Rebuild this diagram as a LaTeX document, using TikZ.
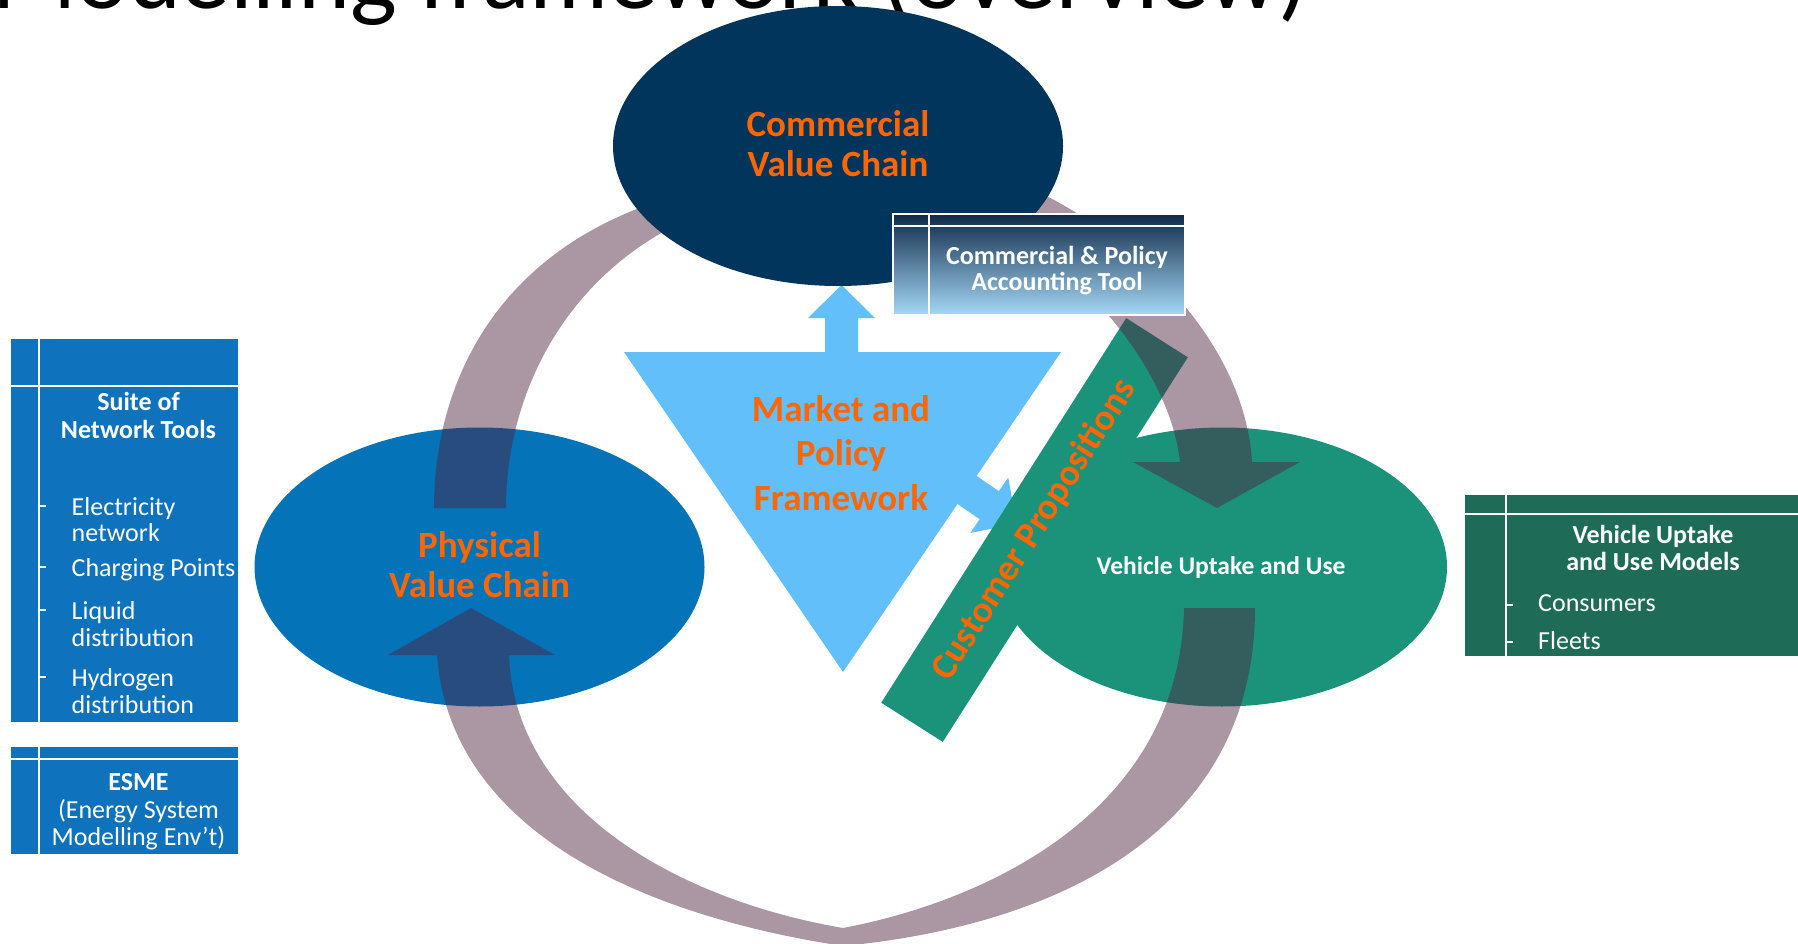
\documentclass[tikz,border=0pt]{standalone}
\usepackage{fontspec}
\setmainfont{Carlito}
\usetikzlibrary{shapes.geometric}

\definecolor{cvcnavy}{RGB}{2,53,91}
\definecolor{pvcblue}{RGB}{4,115,183}
\definecolor{vuugreen}{RGB}{27,147,122}
\definecolor{mpfblue}{RGB}{99,191,250}
\definecolor{accent}{RGB}{255,102,0}
\definecolor{toolblue}{RGB}{14,114,189}
\definecolor{modelgreen}{RGB}{30,108,88}
\definecolor{ringtone}{RGB}{80,35,65}
\definecolor{acctop}{RGB}{14,42,72}
\definecolor{accmid}{RGB}{80,135,180}
\definecolor{accbot}{RGB}{166,216,247}

\begin{document}
\begin{tikzpicture}[x=1pt, y=-1pt,
  ring/.style={fill=ringtone, fill opacity=0.48},
  blob/.style={ellipse, inner sep=0pt, minimum width=450pt, minimum height=279pt},
  orangehead/.style={anchor=base, inner sep=0pt, text=accent, font=\fontsize{37}{37}\selectfont\bfseries},
  boxhead/.style={anchor=base, inner sep=0pt, text=white, font=\fontsize{26}{26}\selectfont\bfseries},
  boxitem/.style={anchor=base west, inner sep=0pt, text=white, font=\fontsize{26}{26}\selectfont},
  boxline/.style={anchor=base, inner sep=0pt, text=white, font=\fontsize{26}{26}\selectfont},
  itemdash/.style={white, line width=1.1pt},
  celllines/.style={white, line width=2pt},
]
\useasboundingbox (0,0) rectangle (1798,944);
\clip (0,0) rectangle (1798,944);

% slide title (runs off the top edge)
\node[anchor=base west, inner sep=0pt, font=\fontsize{99}{99}\selectfont] (title) at (-8,9) {Modelling framework (overview)};

% ---- left-hand tool boxes ----
\fill[toolblue] (11,339) rectangle (238,722);
\draw[celllines] (39,339) -- (39,722);
\draw[celllines] (11,386) -- (238,386);
\node[boxhead] (suite1) at (138.5,410.5) {Suite of};
\node[boxhead] (suite2) at (138.5,438) {Network Tools};
\node[boxitem] (it1a) at (71.5,515) {Electricity};
\node[boxitem] (it1b) at (71.5,541) {network};
\node[boxitem] (it2) at (71.5,576) {Charging Points};
\node[boxitem] (it3a) at (71.5,619) {Liquid};
\node[boxitem] (it3b) at (71.5,646) {distribution};
\node[boxitem] (it4a) at (71.5,686) {Hydrogen};
\node[boxitem] (it4b) at (71.5,713) {distribution};
\foreach \y in {506,567,610,677} \draw[itemdash] (40,\y) -- (46,\y);

\fill[toolblue] (11,747) rectangle (238,854);
\draw[celllines] (39,747) -- (39,854);
\draw[celllines] (11,759) -- (238,759);
\node[boxhead] (esme1) at (138.5,790) {ESME};
\node[boxline] (esme2) at (138.5,818) {(Energy System};
\node[boxline] (esme3) at (138.5,845.5) {Modelling Env’t)};

% ---- right-hand model box ----
\fill[modelgreen] (1465,495) rectangle (1810,656);
\draw[celllines] (1506,495) -- (1506,656);
\draw[celllines] (1465,514) -- (1810,514);
\node[boxhead] (vm1) at (1653,543) {Vehicle Uptake};
\node[boxhead] (vm2) at (1653,570.5) {and Use Models};
\node[boxitem] (vm3) at (1538,611.5) {Consumers};
\node[boxitem] (vm4) at (1538,649) {Fleets};
\foreach \y in {605,642} \draw[itemdash] (1507,\y) -- (1513,\y);

% ---- lower value-chain ellipses ----
\node[blob, fill=pvcblue] (pvc) at (479.5,567) {};
\node[blob, fill=vuugreen] (vuu) at (1222,567) {};

% ---- market and policy triangle with its two block arrows ----
\fill[mpfblue] (624,352) -- (1061,352) -- (843,672) -- cycle;
\fill[mpfblue] (825,353) -- (825,318) -- (808,318) -- (841.5,285) -- (875,318) -- (858,318) -- (858,353) -- cycle;
\fill[mpfblue] (973.3,473.7) -- (998.9,491.2) -- (1008.2,477.5) -- (1016.6,523.8) -- (970.4,532.9) -- (979.7,519.2) -- (954.1,501.7) -- cycle;

% ---- customer propositions band ----
\node[rotate=57.5, fill=vuugreen, minimum width=456pt, minimum height=73pt, inner sep=0pt,
      text=accent, font=\fontsize{37}{37}\selectfont\bfseries] (cp) at (1034.5,530) {Customer Propositions};

% ---- cycle of curved arrows ----
% upper left arc, flat end inside the physical value chain
\fill[ring] (690,192) .. controls (500,240) and (434,380) .. (434,508)
  -- (506,508) .. controls (506,390) and (570,265) .. (705,212) -- cycle;
% upper right arc, arrowhead into vehicle uptake
\fill[ring] (1000,175) .. controls (1130,225) and (1245,340) .. (1252,462)
  -- (1300,462) -- (1217,508) -- (1133,462)
  -- (1180,462) .. controls (1170,370) and (1080,260) .. (975,215) -- cycle;
% lower arc, from vehicle uptake round to the physical value chain
\fill[ring] (471,608) -- (555,655)
  -- (509,655) .. controls (515,810) and (680,900) .. (843,928)
  .. controls (990,900) and (1180,810) .. (1184,608)
  -- (1255,608) .. controls (1255,830) and (1060,925) .. (843,946)
  .. controls (640,915) and (450,830) .. (437,655)
  -- (388,655) -- cycle;

% ---- commercial value chain ellipse ----
\node[blob, fill=cvcnavy, minimum height=280pt] (cvc) at (838,146) {};

% ---- accounting tool box ----
\shade[top color=acctop, middle color=accmid, bottom color=accbot] (893,214) rectangle (1185,315);
\draw[white, line width=1.5pt] (893,214) rectangle (1185,315);
\draw[celllines] (929,214) -- (929,315);
\draw[celllines] (893,226) -- (1185,226);
\node[boxhead] (acc1) at (1057,264) {Commercial \& Policy};
\node[boxhead] (acc2) at (1057,290.5) {Accounting Tool};

% ---- labels ----
\node[orangehead] (cvc1) at (838,137) {Commercial};
\node[orangehead] (cvc2) at (838,177) {Value Chain};
\node[orangehead] (pvc1) at (479.5,557) {Physical};
\node[orangehead] (pvc2) at (479.5,597) {Value Chain};
\node[orangehead] (mpf1) at (841,421) {Market and};
\node[orangehead] (mpf2) at (841,465) {Policy};
\node[orangehead] (mpf3) at (841,510) {Framework};
\node[anchor=base, inner sep=0pt, text=white, font=\fontsize{25.5}{25.5}\selectfont\bfseries] (vuulbl) at (1221,574) {Vehicle Uptake and Use};
\end{tikzpicture}
\end{document}
